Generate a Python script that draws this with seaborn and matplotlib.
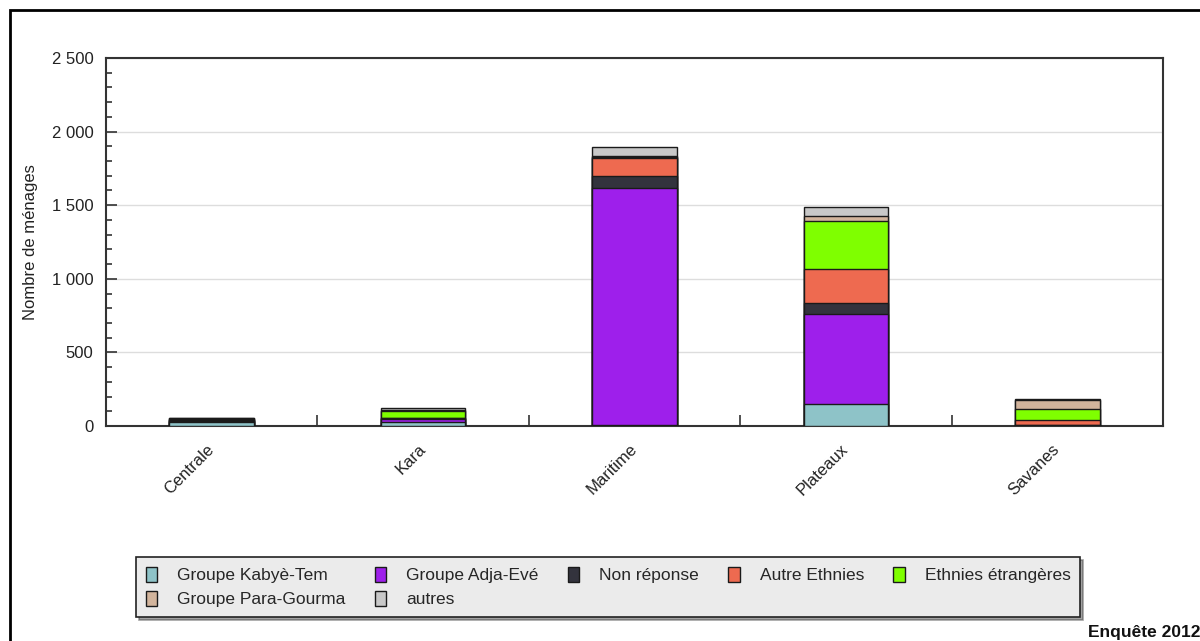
import numpy as np
import pandas as pd
import matplotlib
matplotlib.use("Agg")
import matplotlib.pyplot as plt
import matplotlib.ticker as mticker
from matplotlib.patches import Patch, Rectangle
import seaborn as sns

sns.set_theme(style="white")
plt.rcParams["font.family"] = ["Liberation Sans", "DejaVu Sans"]

# =========================
# DATA
# =========================
regions = ["Centrale", "Kara", "Maritime", "Plateaux", "Savanes"]
groups = ["Groupe Kabyè-Tem", "Groupe Adja-Evé", "Non réponse", "Autre Ethnies",
          "Ethnies étrangères", "Groupe Para-Gourma", "autres"]
kabye = [30, 30, 5, 149, 3]
adja = [3, 18, 1615, 609, 2]
non_reponse = [6, 3, 80, 75, 4]
autre_ethnies = [4, 3, 122, 233, 30]
etrangeres = [7, 48, 8, 324, 74]
para_gourma = [3, 10, 5, 36, 65]
autres = [4, 10, 57, 63, 3]
colors = ["#8EC3C8", "#9E1FEB", "#33333D", "#EE6A50", "#7FFF00", "#D2B49C", "#C8C8C8"]

df = pd.DataFrame({"region": regions})
for name, vals in zip(groups, [kabye, adja, non_reponse, autre_ethnies,
                               etrangeres, para_gourma, autres]):
    df[name] = vals

# cumulative tops for the overlay-style stacking
cum = df[groups].cumsum(axis=1)

fig = plt.figure(figsize=(12, 6.41), dpi=100)
ax = fig.add_axes([106 / 1200, 1 - 426 / 641, (1163 - 106) / 1200, (426 - 58) / 641])

for name, col in zip(groups[::-1], colors[::-1]):
    sns.barplot(x=df["region"], y=cum[name], color=col, saturation=1, width=0.4,
                edgecolor="#1a1a1a", linewidth=1, errorbar=None, ax=ax, zorder=3)

ax.set_ylim(0, 2500)
ax.set_xlim(-0.5, 4.5)
ax.yaxis.set_major_locator(mticker.MultipleLocator(500))
ax.yaxis.set_minor_locator(mticker.MultipleLocator(100))
ax.yaxis.set_major_formatter(mticker.FuncFormatter(lambda v, p: f"{v:,.0f}".replace(",", " ")))
ax.yaxis.grid(True, which="major", color="#DDDDDD", linewidth=1, zorder=0)
ax.set_axisbelow(True)

ax.tick_params(axis="y", which="major", direction="in", length=8, width=1.2,
               color="#333333", labelsize=12, pad=9, left=True, labelcolor="#222222")
ax.tick_params(axis="y", which="minor", direction="in", length=4, width=1.2,
               color="#333333", left=True)
ax.set_xticks(range(len(regions)))
ax.set_xticks([0.5, 1.5, 2.5, 3.5], minor=True)
ax.tick_params(axis="x", which="major", length=0, labelsize=12, pad=15, labelcolor="#222222")
ax.tick_params(axis="x", which="minor", direction="in", length=8, width=1.2,
               color="#333333", bottom=True)
for lab in ax.get_xticklabels():
    lab.set_rotation(45)
    lab.set_ha("right")
    lab.set_va("center")
    lab.set_rotation_mode("anchor")

for sp in ax.spines.values():
    sp.set_color("#333333")
    sp.set_linewidth(1.5)

ax.set_xlabel("")
ax.set_ylabel("Nombre de ménages", fontsize=12, color="#222222", labelpad=10)

# legend, row-major order
handles = [Patch(facecolor=c, edgecolor="#1a1a1a", linewidth=1) for c in colors]
order = [0, 5, 1, 6, 2, 3, 4]
leg = fig.legend([handles[i] for i in order], [groups[i] for i in order],
                 loc="upper left", bbox_to_anchor=(136 / 1200, 1 - 557 / 641),
                 borderaxespad=0, ncol=5, prop={"size": 12.5},
                 frameon=True, fancybox=False, shadow=True,
                 handlelength=0.65, handleheight=0.95, handletextpad=1.15,
                 columnspacing=1.7, labelspacing=0.45, borderpad=0.55)
leg.get_frame().set_facecolor("#EBEBEB")
leg.get_frame().set_edgecolor("#222222")
leg.get_frame().set_linewidth(1.2)

# outer frame (cut off at right/bottom like the reference)
fig.patches.append(Rectangle((10 / 1200, -0.1), 1.2, 1 - 10 / 641 + 0.1,
                             transform=fig.transFigure, fill=False,
                             edgecolor="black", linewidth=2))

fig.text(1088 / 1200, 1 - 632 / 641, "Enquête 2012", fontsize=12.5, fontweight="bold",
         ha="left", va="center", color="#111111")

fig.savefig("out.png", dpi=100)
